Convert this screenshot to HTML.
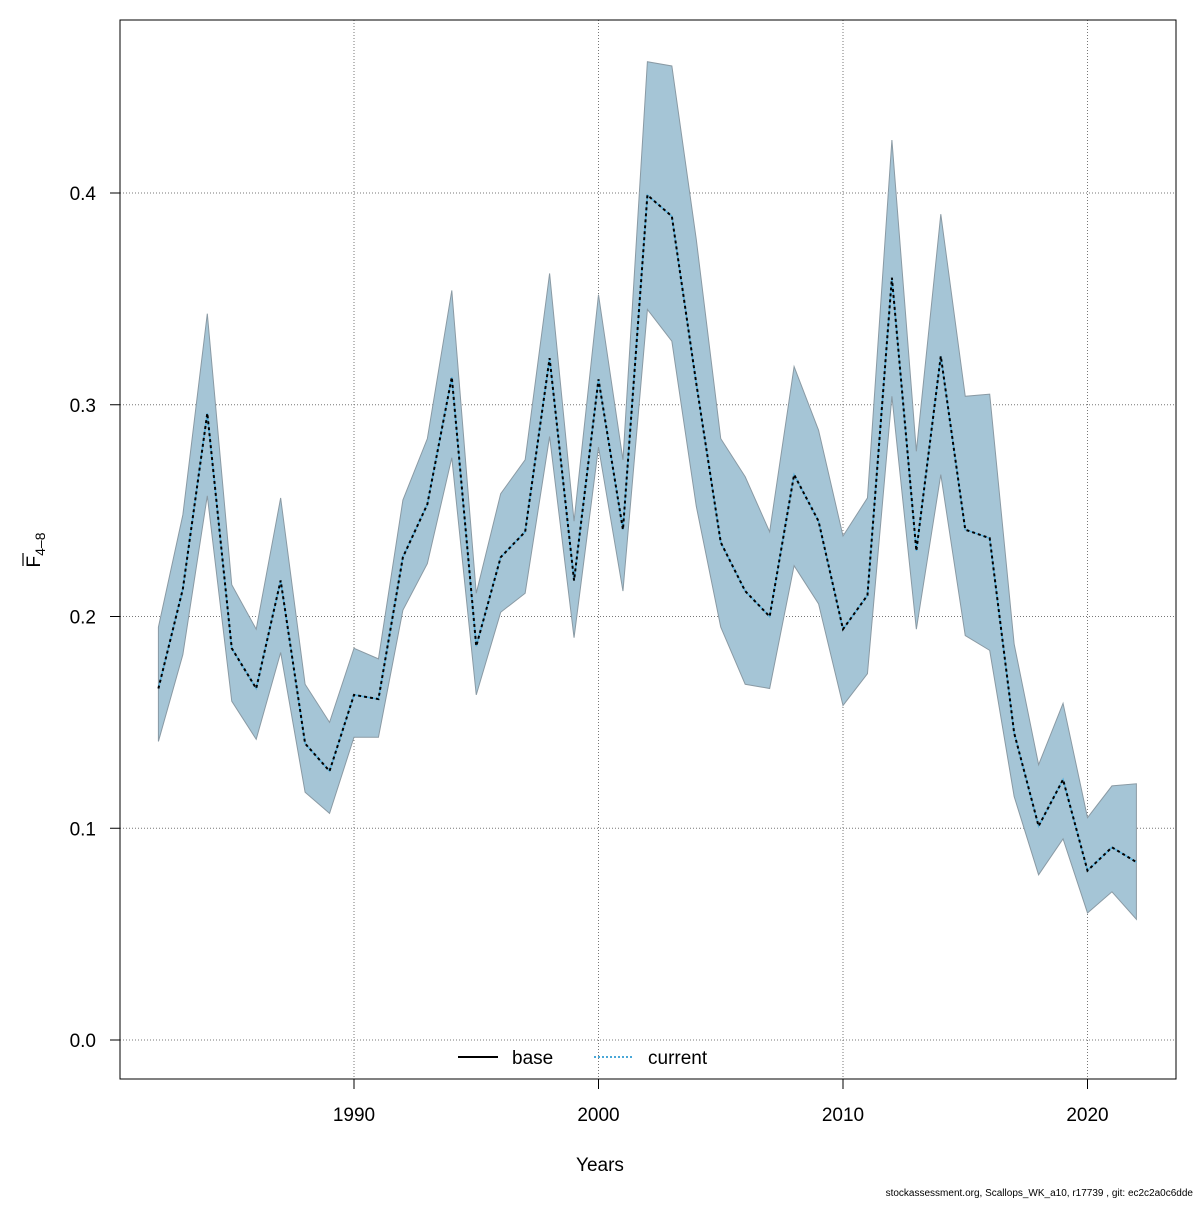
<!DOCTYPE html>
<html><head><meta charset="utf-8"><style>
body{margin:0;background:#fff}
svg text{font-family:"Liberation Sans",sans-serif}
</style></head><body>
<svg id="chart" width="1200" height="1200" xmlns="http://www.w3.org/2000/svg">
<rect x="0" y="0" width="1200" height="1200" fill="#fff"/>
<g id="grid"></g>
<g id="marks"></g>
<rect x="120" y="20" width="1056" height="1059" fill="none" stroke="#000" stroke-width="1"/>
<g id="axes"></g>
<text x="600" y="1171" font-size="19" text-anchor="middle">Years</text>
<g transform="translate(40,550) rotate(-90)">
<text x="0" y="0" font-size="19" text-anchor="middle">F<tspan font-size="14" dy="5">4–8</tspan></text>
<line x1="-16" y1="-17" x2="-3" y2="-17" stroke="#000" stroke-width="1.2"/>
</g>
<g>
<line x1="458" y1="1057" x2="498" y2="1057" stroke="#000" stroke-width="2"/>
<text x="512" y="1064" font-size="19">base</text>
<line x1="594" y1="1057" x2="634" y2="1057" stroke="#4aa8d8" stroke-width="2" stroke-dasharray="2,2"/>
<text x="648" y="1064" font-size="19">current</text>
</g>
<text x="1193" y="1196" font-size="10" text-anchor="end">stockassessment.org, Scallops_WK_a10, r17739 , git: ec2c2a0c6dde</text>
</svg>
<script>
const years=[1982,1983,1984,1985,1986,1987,1988,1989,1990,1991,1992,1993,1994,1995,1996,1997,1998,1999,2000,2001,2002,2003,2004,2005,2006,2007,2008,2009,2010,2011,2012,2013,2014,2015,2016,2017,2018,2019,2020,2021,2022];
const fbar=[0.166,0.213,0.296,0.185,0.166,0.217,0.140,0.127,0.163,0.161,0.228,0.253,0.313,0.186,0.228,0.240,0.322,0.217,0.312,0.241,0.399,0.389,0.310,0.235,0.212,0.200,0.267,0.245,0.194,0.210,0.360,0.231,0.323,0.241,0.237,0.145,0.101,0.123,0.080,0.091,0.084];
const upper=[0.195,0.248,0.343,0.215,0.194,0.256,0.168,0.150,0.185,0.180,0.255,0.284,0.354,0.211,0.258,0.274,0.362,0.245,0.352,0.274,0.462,0.460,0.378,0.284,0.266,0.240,0.318,0.288,0.238,0.256,0.425,0.278,0.390,0.304,0.305,0.187,0.130,0.159,0.105,0.120,0.121];
const lower=[0.141,0.182,0.257,0.160,0.142,0.183,0.117,0.107,0.143,0.143,0.203,0.225,0.275,0.163,0.202,0.211,0.285,0.190,0.280,0.212,0.345,0.330,0.252,0.195,0.168,0.166,0.224,0.206,0.158,0.173,0.304,0.194,0.267,0.191,0.184,0.115,0.078,0.095,0.060,0.070,0.057];
const xTicks=[1990,2000,2010,2020];
const yTicks=[0.0,0.1,0.2,0.3,0.4];
const yTickLabels=["0.0","0.1","0.2","0.3","0.4"];
const NS="http://www.w3.org/2000/svg";
const X=v=>354+(v-1990)*24.45;
const Y=v=>1040-v*2117.5;
function mk(t,a,p){const e=document.createElementNS(NS,t);for(const k in a)e.setAttribute(k,a[k]);p.appendChild(e);return e;}
const grid=document.getElementById('grid'),marks=document.getElementById('marks'),axes=document.getElementById('axes');
xTicks.forEach(t=>{
 const g=mk('line',{x1:X(t),x2:X(t),y1:20,y2:1079,stroke:'#777','stroke-dasharray':'1,2'},grid);
 
 
 const tk=mk('line',{x1:X(t),x2:X(t),y1:1079,y2:1089,stroke:'#000'},axes);
 
 
 const l=mk('text',{x:X(t),y:1121,'font-size':19,'text-anchor':'middle'},axes);l.textContent=t;
 
 
});
yTicks.forEach((t,i)=>{
 const g=mk('line',{x1:120,x2:1176,y1:Y(t),y2:Y(t),stroke:'#777','stroke-dasharray':'1,2'},grid);
 
 
 const tk=mk('line',{x1:110,x2:120,y1:Y(t),y2:Y(t),stroke:'#000'},axes);
 
 
 const l=mk('text',{x:96,y:Y(t)+7,'font-size':19,'text-anchor':'end'},axes);l.textContent=yTickLabels[i];
 
 
});
let pts=years.map((y,i)=>X(y)+','+Y(upper[i]));
for(let i=years.length-1;i>=0;i--)pts.push(X(years[i])+','+Y(lower[i]));
const band=mk('polygon',{points:pts.join(' '),fill:'#a5c5d6',stroke:'#8a9aa4','stroke-width':1},marks);


const lp=years.map((y,i)=>X(y)+','+Y(fbar[i])).join(' ');
const base=mk('polyline',{points:lp,fill:'none',stroke:'#5ab4e0','stroke-width':1.5},marks);


const cur=mk('polyline',{points:lp,fill:'none',stroke:'#000','stroke-width':2,'stroke-dasharray':'3,3'},marks);


</script>
</body></html>
